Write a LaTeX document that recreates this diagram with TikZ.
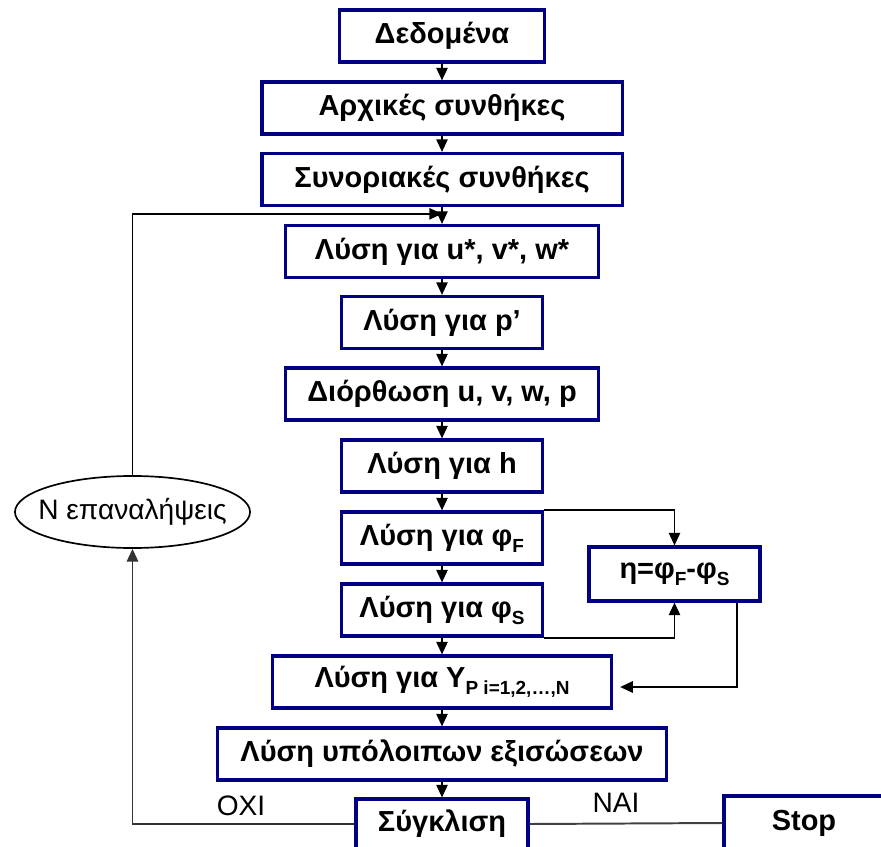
\documentclass[tikz,border=0pt]{standalone}
\usepackage{fontspec}
\setmainfont{Liberation Sans}
\usetikzlibrary{shapes.geometric,arrows.meta,calc}
\definecolor{boxblue}{RGB}{0,0,128}
\newcommand{\sub}[1]{\raisebox{-0.45ex}{\fontsize{13.5}{14}\selectfont #1}}

\begin{document}
\begin{tikzpicture}[x=0.025cm,y=-0.025cm]
    % Define box shapes
    \tikzstyle{box}=[draw=boxblue, line width=2.2pt, rectangle, fill=white, minimum height=1.3cm, inner sep=0pt, font=\fontsize{20.6}{24}\selectfont\bfseries]
    \tikzstyle{loopnode}=[draw, ellipse, line width=1.2pt, minimum width=5.875cm, minimum height=1.8cm, inner xsep=-12pt, inner ysep=0pt, font=\fontsize{20}{23}\selectfont]
    \tikzstyle{arrow}=[line width=1.4pt, -{Triangle[length=9pt,width=8pt]}]
    \tikzstyle{plain}=[line width=1.4pt, draw=black!75]
    \tikzstyle{answer}=[font=\fontsize{20}{23}\selectfont]

    % Page frame
    \clip (0,0) rectangle (881,847);
    \useasboundingbox (0,0) rectangle (881,847);

    % Place main steps
    \node[box, minimum width=5.125cm] (dat) at (442,36) {Δεδομένα};
    \node[box, minimum width=9cm] (init) at (442,108) {Αρχικές συνθήκες};
    \node[box, minimum width=9cm] (bound) at (442,179.5) {Συνοριακές συνθήκες};
    \node[box, minimum width=7.825cm] (uvw) at (442,251.5) {Λύση για u*, v*, w*};
    \node[box, minimum width=5.025cm] (pcor) at (442,322.5) {Λύση για p’};
    \node[box, minimum width=7.825cm] (corr) at (442,394) {Διόρθωση u, v, w, p};
    \node[box, minimum width=5.025cm] (h) at (442,466) {Λύση για h};
    \node[box, minimum width=5.025cm] (phiF) at (442,538) {Λύση για φ\sub{F}};
    \node[box, minimum width=5.025cm] (phiS) at (442,610) {Λύση για φ\sub{S}};
    \node[box, minimum width=8.475cm] (yp) at (442,682) {Λύση για Y\sub{P i=1,2,…,N}};
    \node[box, minimum width=11.2cm] (rest) at (442,754) {Λύση υπόλοιπων εξισώσεων};
    \node[box, minimum width=4.3cm, minimum height=1.25cm] (conv) at (442,824) {Σύγκλιση};

    % Place side nodes
    \node[box, minimum width=4.275cm, minimum height=1.35cm] (eta) at (674.5,574) {η=φ\sub{F}-φ\sub{S}};
    \node[box, minimum width=4cm, minimum height=1.35cm] (stop) at (804,823) {Stop};
    \node[loopnode] (rep) at (132.5,512) {N επαναλήψεις};

    % Connect main steps
    \foreach \a/\b in {dat/init, init/bound, bound/uvw, uvw/pcor, pcor/corr, corr/h, h/phiF, phiF/phiS, phiS/yp, yp/rest, rest/conv}
        \draw[arrow] (\a.south) -- (\b.north);

    % Iteration loop
    \coordinate (join) at ($(bound.south)!0.4!(uvw.north)$);
    \draw[arrow, draw=black!80] (conv.west) -| (rep.south);
    \draw[arrow] (rep.north) |- (join);
    \node[answer] (no) at (241,806) {ΟΧΙ};

    % Difference of phi
    \draw[arrow] (phiF.north east) -| (eta.north);
    \draw[arrow] (phiS.south east) -| (eta.south);
    \coordinate (etaout) at ($(eta.south east)+(-25,0)$);
    \coordinate (ypin) at ($(yp.east)+(7,5)$);
    \draw[arrow] (etaout) |- (ypin);

    % Stop
    \draw[plain] (conv.east) -- (stop.west);
    \node[answer] (yes) at (616,803) {ΝΑΙ};
\end{tikzpicture}
\end{document}
